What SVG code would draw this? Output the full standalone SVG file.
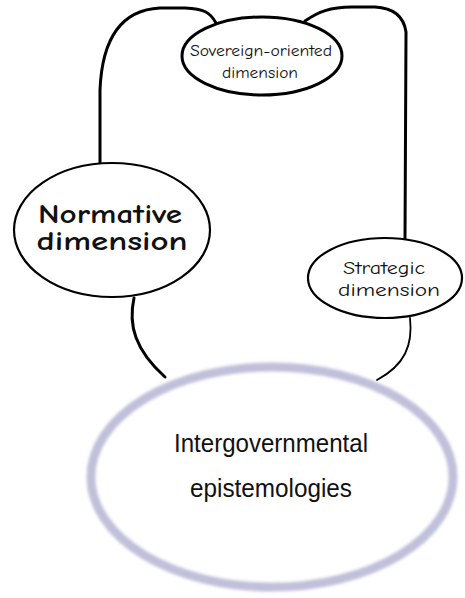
<svg xmlns="http://www.w3.org/2000/svg" width="465" height="598" viewBox="0 0 465 598">
<style>
.node{fill:#fff;stroke:#000}
.lbl{font-family:"Comic Neue","DejaVu Sans","Liberation Sans",sans-serif;fill:#111;text-anchor:middle}
.big{font-family:"Liberation Sans","Open Sans",sans-serif;fill:#111;text-anchor:middle;font-size:25px}
.conn{fill:none;stroke:#000;stroke-linecap:round}
</style>
<defs>
<filter id="soft" x="-10%" y="-10%" width="120%" height="120%"><feGaussianBlur stdDeviation="1.4"/></filter>
</defs>
<rect width="465" height="598" fill="#fff"/>
<g id="connectors">
<path class="conn" stroke-width="3" d="M216,23 C210,12 204,9 185,8 L160,8 C120,10 102,40 100,90 L100,165"/>
<path class="conn" stroke-width="3" d="M305,21 C318,12 330,7 352,7 L375,7 C395,8 404,18 406,32 L405,240"/>
<path class="conn" stroke-width="3" d="M134,298 C128,325 135,350 165,377"/>
<path class="conn" stroke-width="1.8" d="M410,318 C413,345 405,365 377,380"/>
</g>
<g id="intergovernmental">
<ellipse cx="272" cy="477" rx="181" ry="110" fill="#fff" stroke="#c0c0da" stroke-width="9" filter="url(#soft)"/>
<text class="big" x="271" y="452" textLength="194" lengthAdjust="spacingAndGlyphs">Intergovernmental</text>
<text class="big" x="271" y="497" textLength="162" lengthAdjust="spacingAndGlyphs">epistemologies</text>
</g>
<g id="normative">
<ellipse class="node" cx="112" cy="230" rx="98" ry="67" stroke-width="2.2"/>
<text class="lbl" x="110" y="223" font-size="26" font-weight="bold" textLength="144" lengthAdjust="spacingAndGlyphs">Normative</text>
<text class="lbl" x="112" y="250" font-size="26" font-weight="bold" textLength="151" lengthAdjust="spacingAndGlyphs">dimension</text>
</g>
<g id="sovereign">
<ellipse class="node" cx="262" cy="56" rx="80" ry="39" stroke-width="3"/>
<text class="lbl" x="261" y="56" font-size="16" textLength="142" lengthAdjust="spacingAndGlyphs">Sovereign-oriented</text>
<text class="lbl" x="260" y="78" font-size="16" textLength="76" lengthAdjust="spacingAndGlyphs">dimension</text>
</g>
<g id="strategic">
<ellipse class="node" cx="385" cy="278" rx="77" ry="40" stroke-width="2.2"/>
<text class="lbl" x="384" y="274" font-size="17" textLength="82" lengthAdjust="spacingAndGlyphs">Strategic</text>
<text class="lbl" x="389" y="296" font-size="17" textLength="102" lengthAdjust="spacingAndGlyphs">dimension</text>
</g>
</svg>
